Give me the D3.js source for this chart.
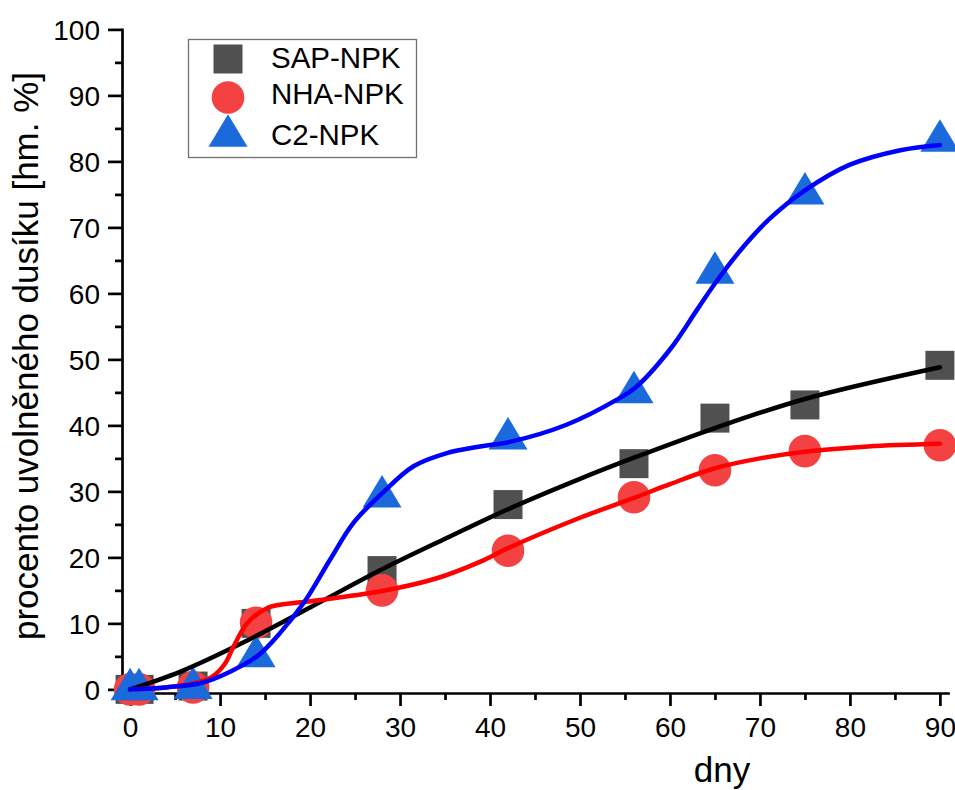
<!DOCTYPE html>
<html>
<head>
<meta charset="utf-8">
<script src="https://cdn.jsdelivr.net/npm/d3@7"></script>
<style>
  html, body { margin: 0; padding: 0; background: #fff; }
  svg { display: block; }
  text { font-family: "Liberation Sans", Arial, sans-serif; fill: #000; }
</style>
</head>
<body>
<svg id="chart" width="955" height="790"></svg>
<script>
// ---- data ----
const days = [0, 1, 7, 14, 28, 42, 56, 65, 75, 90];
const sapNPK = [0, 0, 0.5, 10, 18, 28, 34.2, 41.1, 43.1, 49.1];
const nhaNPK = [0, 0, 0.3, 10.1, 15, 21, 29.1, 33.2, 36.1, 37];
const c2NPK  = [0, 0, 0.2, 5, 29.2, 38, 45, 63.1, 75.1, 83.1];

// fitted curves, points
const sapFitX = [0, 5.6, 13.3, 20, 28, 35.6, 42, 50, 56, 65, 75, 90];
const sapFitY = [0, 2.7, 7.6, 12.4, 18.2, 23.2, 27.3, 31.9, 35.1, 39.6, 44, 48.8];
const nhaFitX = [0, 4, 7, 9, 10.5, 11.5, 13, 15.2, 17, 19, 22, 28, 34, 39, 42, 50, 56, 60, 65, 70, 75, 82, 90];
const nhaFitY = [0, 0.3, 0.9, 1.8, 3.8, 6.5, 10, 12.3, 12.9, 13.2, 13.7, 14.9, 16.8, 19.4, 21.4, 26, 29, 31.1, 33.5, 35, 36, 36.8, 37.2];
const c2FitX = [0, 4, 8, 11, 14.1, 16.7, 19.4, 22.2, 24.8, 28, 31.5, 35.2, 38.9, 42.2, 48.5, 54.1, 56.3, 60, 63, 65, 68, 71, 75, 80, 85.6, 90];
const c2FitY = [0, 0.3, 1, 2.6, 5, 8.6, 13.3, 19.6, 25.2, 29.7, 33.8, 35.8, 36.8, 37.5, 40.1, 43.9, 45.9, 51.5, 57.5, 61.5, 66.8, 71.2, 75.6, 79.5, 81.7, 82.5];

const seriesNames = ["SAP-NPK", "NHA-NPK", "C2-NPK"];
const xTicks = [0, 10, 20, 30, 40, 50, 60, 70, 80, 90];
const xMinorTicks = [5, 15, 25, 35, 45, 55, 65, 75, 85];
const yTicks = [0, 10, 20, 30, 40, 50, 60, 70, 80, 90, 100];
const yMinorTicks = [5, 15, 25, 35, 45, 55, 65, 75, 85, 95];

// ---- setup ----
const svg = d3.select("#chart");
const x = d3.scaleLinear().domain([-0.9, 90.9]).range([122, 948]);
const y = d3.scaleLinear().domain([-0.55, 100]).range([693, 29.4]);

const markerFill = ["#505050", "#f44242", "#1a6adc"];
const lineColor = ["#000000", "#ff0000", "#0000ff"];

const triangleType = {
  draw(ctx, size) {
    const w = Math.sqrt(size) * 1.2;       // half width
    const h = w * 1.667;                    // full height
    ctx.moveTo(0, -h * 2 / 3);
    ctx.lineTo(w, h / 3);
    ctx.lineTo(-w, h / 3);
    ctx.closePath();
  }
};
const symbolTypes = [d3.symbolSquare, d3.symbolCircle, triangleType];
const symbolSizes = [29 * 29, Math.PI * 16.3 * 16.3, 16.25 * 16.25];

// ---- axes ----
const axisStroke = 2.7;

const gx = svg.append("g").attr("transform", `translate(0,${y(-0.55)})`);
gx.call(d3.axisBottom(x).tickValues(xTicks).tickSize(13).tickSizeOuter(0).tickPadding(10).tickFormat(d3.format("d")));
const gxm = svg.append("g").attr("transform", `translate(0,${y(-0.55)})`);
gxm.call(d3.axisBottom(x).tickValues(xMinorTicks).tickSize(7).tickSizeOuter(0).tickFormat(""));
gxm.select(".domain").remove();

const gy = svg.append("g").attr("transform", `translate(${x(-0.9)},0)`);
gy.call(d3.axisLeft(y).tickValues(yTicks).tickSize(14).tickSizeOuter(0).tickPadding(8).tickFormat(d3.format("d")));
const gym = svg.append("g").attr("transform", `translate(${x(-0.9)},0)`);
gym.call(d3.axisLeft(y).tickValues(yMinorTicks).tickSize(7).tickSizeOuter(0).tickFormat(""));
gym.select(".domain").remove();

[gx, gxm, gy, gym].forEach(g => {
  g.selectAll(".domain").attr("stroke", "#000").attr("stroke-width", axisStroke).attr("stroke-linecap", "square");
  g.selectAll(".tick line").attr("stroke", "#000").attr("stroke-width", axisStroke);
  g.selectAll(".tick text").attr("font-size", 28).attr("font-family", "Liberation Sans, Arial, sans-serif").attr("fill", "#000");
});
gy.selectAll(".tick text").attr("dy", "0.36em");
gx.selectAll(".tick text").attr("dy", "0.75em");

// axis titles
svg.append("text")
  .attr("x", 722).attr("y", 782)
  .attr("text-anchor", "middle")
  .attr("font-size", 35)
  .text("dny");

svg.append("text")
  .attr("transform", "translate(38,356) rotate(-90)")
  .attr("text-anchor", "middle")
  .attr("font-size", 35)
  .text("procento uvolněného dusíku [hm. %]");

// ---- markers ----
const allSeries = [sapNPK, nhaNPK, c2NPK];
allSeries.forEach((vals, si) => {
  const sym = d3.symbol().type(symbolTypes[si]).size(symbolSizes[si]);
  svg.append("g").selectAll("path")
    .data(days.map((d, i) => ({ d, v: vals[i] })))
    .join("path")
    .attr("transform", p => `translate(${x(p.d)},${y(p.v)})`)
    .attr("d", sym())
    .attr("fill", markerFill[si]);
});

// ---- fit lines ----
const fits = [
  sapFitX.map((v, i) => [v, sapFitY[i]]),
  nhaFitX.map((v, i) => [v, nhaFitY[i]]),
  c2FitX.map((v, i) => [v, c2FitY[i]])
];
const line = d3.line().x(p => x(p[0])).y(p => y(p[1])).curve(d3.curveCatmullRom.alpha(0.5));
fits.forEach((pts, si) => {
  svg.append("path")
    .attr("d", line(pts))
    .attr("fill", "none")
    .attr("stroke", lineColor[si])
    .attr("stroke-width", 4.5)
    .attr("stroke-linecap", "round")
    .attr("stroke-linejoin", "round");
});

// ---- legend ----
const legend = svg.append("g");
legend.append("rect")
  .attr("x", 188.5).attr("y", 39.5).attr("width", 228).attr("height", 118)
  .attr("fill", "#fff").attr("stroke", "#707070").attr("stroke-width", 1.3);
const legendMarkerY = [59, 97.5, 136];
const legendTextY = [68, 104, 145];
seriesNames.forEach((name, si) => {
  legend.append("path")
    .attr("transform", `translate(228,${legendMarkerY[si]})`)
    .attr("d", d3.symbol().type(symbolTypes[si]).size(symbolSizes[si])())
    .attr("fill", markerFill[si]);
  legend.append("text")
    .attr("x", 271).attr("y", legendTextY[si])
    .attr("font-size", 29.5)
    .text(name);
});
</script>
</body>
</html>
